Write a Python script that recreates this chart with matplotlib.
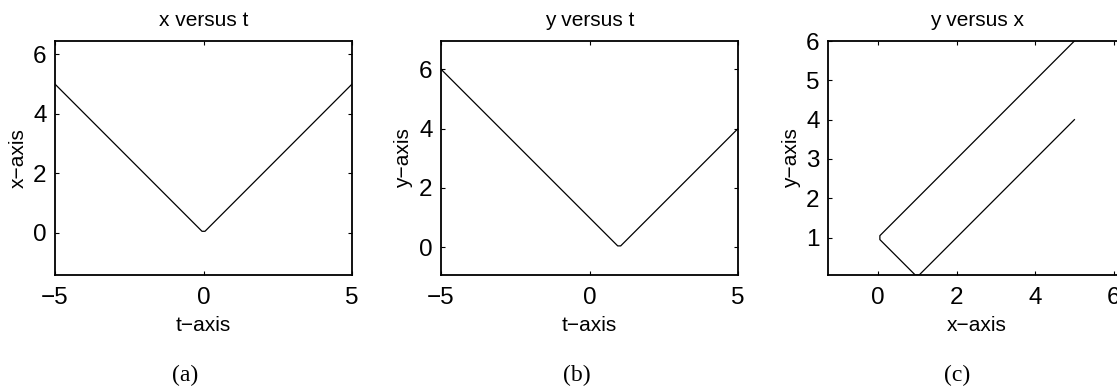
import matplotlib
matplotlib.use("Agg")
import matplotlib.pyplot as plt

# Sampled data (vertices of the piecewise-linear curves)
t_vals = [-5.0, -0.05, 0.05, 0.95, 1.05, 5.0]
x_vals = [5.0, 0.05, 0.05, 0.95, 1.05, 5.0]
y_vals = [6.0, 1.05, 0.95, 0.05, 0.05, 4.0]

titles = ["x versus t", "y versus t", "y versus x"]
xlabels = ["t\u2212axis", "t\u2212axis", "x\u2212axis"]
ylabels = ["x\u2212axis", "y\u2212axis", "y\u2212axis"]
captions = ["(a)", "(b)", "(c)"]
xticks_ab = [-5, 0, 5]
yticks_ab = [0, 2, 4, 6]
xticks_c = [0, 2, 4, 6]
yticks_c = [1, 2, 3, 4, 5, 6]
xtick_labels_ab = ["\u22125", "0", "5"]

plt.rcParams['font.family'] = ['Liberation Sans', 'DejaVu Sans']

W, H = 1117, 388
fig = plt.figure(figsize=(W / 100, H / 100), dpi=100)


def px_axes(left, right, top, bottom):
    return fig.add_axes([left / W, (H - bottom) / H, (right - left) / W, (bottom - top) / H])


axA = px_axes(55, 352, 41, 275)
axB = px_axes(441, 738, 41, 275)
axC = px_axes(828, 828 + 7.57 * 39.3, 41, 275)

axA.plot(t_vals, x_vals, color='black', lw=0.9)
axA.set_xlim(-5, 5)
axA.set_ylim(-1.42, 6.45)
axA.set_xticks(xticks_ab, xtick_labels_ab)
axA.set_yticks(yticks_ab)

axB.plot(t_vals, y_vals, color='black', lw=0.9)
axB.set_xlim(-5, 5)
axB.set_ylim(-0.93, 6.95)
axB.set_xticks(xticks_ab, xtick_labels_ab)
axB.set_yticks(yticks_ab)

axC.plot(x_vals, y_vals, color='black', lw=0.9)
axC.set_xlim(-1.27, 6.3)
axC.set_ylim(0.05, 6.0)
axC.set_xticks(xticks_c)
axC.set_yticks(yticks_c)

for ax, ti, xl, yl in zip([axA, axB, axC], titles, xlabels, ylabels):
    ax.set_title(ti, fontsize=15, pad=11)
    ax.set_xlabel(xl, fontsize=15, labelpad=5)
    ax.set_ylabel(yl, fontsize=15, labelpad=4)
    ax.tick_params(direction='in', length=3, width=0.8, top=True, right=True,
                   labelsize=17.5)
    ax.tick_params(axis='x', pad=9)
    ax.tick_params(axis='y', pad=6)
    for s in ax.spines.values():
        s.set_linewidth(1.3)

cap_x = [185, 577, 957]
for cx, cap in zip(cap_x, captions):
    fig.text(cx / W, (H - 375) / H, cap, ha='center', va='center', fontsize=17,
             family=['Liberation Serif', 'DejaVu Serif'])

fig.savefig("out.png", dpi=100)
